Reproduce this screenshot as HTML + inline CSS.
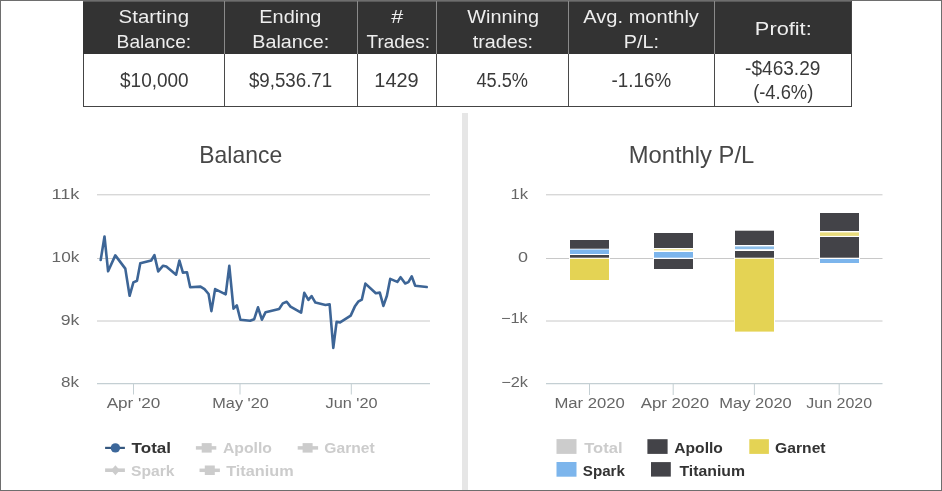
<!DOCTYPE html>
<html><head><meta charset="utf-8"><style>
html,body{margin:0;padding:0;width:942px;height:491px;overflow:hidden;background:#fff;}
svg{display:block;will-change:transform;font-family:"Liberation Sans",sans-serif;}
</style></head><body>
<svg width="942" height="491" viewBox="0 0 942 491">
<rect x="0" y="0" width="942" height="491" fill="#fff"/>

<rect x="83" y="1" width="769" height="53" fill="#333333"/>
<rect x="83" y="1" width="769" height="1" fill="#5a5a5a"/>
<rect x="83" y="54" width="1" height="53" fill="#444"/>
<rect x="851" y="1" width="1" height="106" fill="#444"/>
<rect x="83" y="106" width="769" height="1" fill="#444"/>
<rect x="224" y="1" width="1" height="53" fill="#8a8a8a"/>
<rect x="224" y="54" width="1" height="52" fill="#4a4a4a"/>
<rect x="357" y="1" width="1" height="53" fill="#8a8a8a"/>
<rect x="357" y="54" width="1" height="52" fill="#4a4a4a"/>
<rect x="436" y="1" width="1" height="53" fill="#8a8a8a"/>
<rect x="436" y="54" width="1" height="52" fill="#4a4a4a"/>
<rect x="568" y="1" width="1" height="53" fill="#8a8a8a"/>
<rect x="568" y="54" width="1" height="52" fill="#4a4a4a"/>
<rect x="714" y="1" width="1" height="53" fill="#8a8a8a"/>
<rect x="714" y="54" width="1" height="52" fill="#4a4a4a"/>
<text x="118.63" y="22.8" font-size="18.5" fill="#eeeeee" font-weight="normal" textLength="70.38" lengthAdjust="spacingAndGlyphs">Starting</text>
<text x="116.61" y="47.6" font-size="18.5" fill="#eeeeee" font-weight="normal" textLength="74.57" lengthAdjust="spacingAndGlyphs">Balance:</text>
<text x="259.32" y="22.8" font-size="18.5" fill="#eeeeee" font-weight="normal" textLength="61.96" lengthAdjust="spacingAndGlyphs">Ending</text>
<text x="252.34" y="47.6" font-size="18.5" fill="#eeeeee" font-weight="normal" textLength="76.79" lengthAdjust="spacingAndGlyphs">Balance:</text>
<text x="391.34" y="22.8" font-size="18.5" fill="#eeeeee" font-weight="normal" textLength="12.00" lengthAdjust="spacingAndGlyphs">#</text>
<text x="366.58" y="47.6" font-size="18.5" fill="#eeeeee" font-weight="normal" textLength="63.31" lengthAdjust="spacingAndGlyphs">Trades:</text>
<text x="467.25" y="22.8" font-size="18.5" fill="#eeeeee" font-weight="normal" textLength="71.74" lengthAdjust="spacingAndGlyphs">Winning</text>
<text x="472.68" y="47.6" font-size="18.5" fill="#eeeeee" font-weight="normal" textLength="60.38" lengthAdjust="spacingAndGlyphs">trades:</text>
<text x="583.34" y="22.8" font-size="18.5" fill="#eeeeee" font-weight="normal" textLength="115.57" lengthAdjust="spacingAndGlyphs">Avg. monthly</text>
<text x="623.85" y="47.6" font-size="18.5" fill="#eeeeee" font-weight="normal" textLength="35.21" lengthAdjust="spacingAndGlyphs">P/L:</text>
<text x="754.86" y="34.6" font-size="18.5" fill="#eeeeee" font-weight="normal" textLength="56.87" lengthAdjust="spacingAndGlyphs">Profit:</text>
<text x="120.07" y="86.7" font-size="20" fill="#3a3a3a" font-weight="normal" textLength="68.58" lengthAdjust="spacingAndGlyphs">$10,000</text>
<text x="248.89" y="86.7" font-size="20" fill="#3a3a3a" font-weight="normal" textLength="83.34" lengthAdjust="spacingAndGlyphs">$9,536.71</text>
<text x="374.36" y="86.7" font-size="20" fill="#3a3a3a" font-weight="normal" textLength="44.35" lengthAdjust="spacingAndGlyphs">1429</text>
<text x="476.45" y="86.7" font-size="20" fill="#3a3a3a" font-weight="normal" textLength="51.63" lengthAdjust="spacingAndGlyphs">45.5%</text>
<text x="611.60" y="86.7" font-size="20" fill="#3a3a3a" font-weight="normal" textLength="59.48" lengthAdjust="spacingAndGlyphs">-1.16%</text>
<text x="745.05" y="74.5" font-size="20" fill="#3a3a3a" font-weight="normal" textLength="75.38" lengthAdjust="spacingAndGlyphs">-$463.29</text>
<text x="753.17" y="99.0" font-size="20" fill="#3a3a3a" font-weight="normal" textLength="60.11" lengthAdjust="spacingAndGlyphs">(-4.6%)</text>
<rect x="462" y="113" width="6" height="377" fill="#e6e6e6"/>
<line x1="97" y1="194.8" x2="430" y2="194.8" stroke="#c8c8c8" stroke-width="1"/>
<line x1="97" y1="258.5" x2="430" y2="258.5" stroke="#c8c8c8" stroke-width="1"/>
<line x1="97" y1="321" x2="430" y2="321" stroke="#c8c8c8" stroke-width="1"/>
<line x1="97" y1="383.6" x2="430" y2="383.6" stroke="#c4cfd3" stroke-width="1.2"/>
<line x1="133.5" y1="383.6" x2="133.5" y2="394.5" stroke="#c4cfd3" stroke-width="1"/>
<line x1="240" y1="383.6" x2="240" y2="394.5" stroke="#c4cfd3" stroke-width="1"/>
<line x1="351.3" y1="383.6" x2="351.3" y2="394.5" stroke="#c4cfd3" stroke-width="1"/>
<text x="199.31" y="162.8" font-size="24" fill="#474747" font-weight="normal" textLength="82.85" lengthAdjust="spacingAndGlyphs">Balance</text>
<text x="51.47" y="198.9" font-size="14" fill="#666666" font-weight="normal" textLength="27.90" lengthAdjust="spacingAndGlyphs">11k</text>
<text x="51.57" y="262.4" font-size="14" fill="#666666" font-weight="normal" textLength="27.74" lengthAdjust="spacingAndGlyphs">10k</text>
<text x="60.76" y="324.6" font-size="14" fill="#666666" font-weight="normal" textLength="18.65" lengthAdjust="spacingAndGlyphs">9k</text>
<text x="61.07" y="387.0" font-size="14" fill="#666666" font-weight="normal" textLength="17.96" lengthAdjust="spacingAndGlyphs">8k</text>
<text x="106.65" y="407.8" font-size="15.3" fill="#666666" font-weight="normal" textLength="53.76" lengthAdjust="spacingAndGlyphs">Apr '20</text>
<text x="212.32" y="407.8" font-size="15.3" fill="#666666" font-weight="normal" textLength="56.46" lengthAdjust="spacingAndGlyphs">May '20</text>
<text x="325.54" y="407.8" font-size="15.3" fill="#666666" font-weight="normal" textLength="52.01" lengthAdjust="spacingAndGlyphs">Jun '20</text>
<polyline points="100.7,260 104.5,236.5 108.1,271.3 115.3,255.4 125.3,268.6 129.6,295.8 133.4,282.4 137.0,280.7 140.3,263.3 151.2,260.5 154.4,255.1 158.2,271.4 163.1,265.7 166.3,266.5 176.1,274.7 179.4,260.5 182.9,272.6 187.0,272.3 190.2,287.3 200.5,286.6 204.5,289.1 208.6,294.0 211.4,311.1 215.1,289.1 225.7,294.3 229.3,265.8 233.5,308.6 236.8,305.4 240.4,319.7 250.1,320.8 254.2,319.2 258.0,307.3 261.9,319.7 265.6,312.2 279.1,309.0 282.8,303.4 286.7,301.8 290.5,306.6 301.1,312.7 304.3,292.8 308.4,299.8 311.6,296.1 315.4,302.6 325.5,305 329.6,304.2 333.3,347.9 336.6,321.8 340.1,322.4 350.7,315.6 354.8,306.6 358.2,301.7 361.8,299.7 365.4,283.6 375.8,293.2 379.8,292.6 383.4,305.9 386.9,295.8 390.2,278.9 397.3,281.9 400.6,277.2 405.2,283.5 408.4,282.1 411.7,276.3 415.2,285.8 426.7,287" fill="none" stroke="#3d6596" stroke-width="2.6" stroke-linejoin="round" stroke-linecap="round"/>
<line x1="105.1" y1="447.9" x2="124.9" y2="447.9" stroke="#35587f" stroke-width="2.2"/>
<circle cx="115.4" cy="447.9" r="4.7" fill="#3c679a"/>
<text x="131.63" y="453.0" font-size="15" fill="#333" font-weight="bold" textLength="39.45" lengthAdjust="spacingAndGlyphs">Total</text>
<line x1="195.9" y1="447.9" x2="216.3" y2="447.9" stroke="#cccccc" stroke-width="3.5"/>
<rect x="201.7" y="443.1" width="10" height="9.5" fill="#cccccc"/>
<text x="222.98" y="453.0" font-size="15" fill="#cccccc" font-weight="bold" textLength="48.96" lengthAdjust="spacingAndGlyphs">Apollo</text>
<line x1="297.7" y1="447.9" x2="318.1" y2="447.9" stroke="#cccccc" stroke-width="3.5"/>
<rect x="302.6" y="443.1" width="10" height="9.5" fill="#cccccc"/>
<text x="324.30" y="453.0" font-size="15" fill="#cccccc" font-weight="bold" textLength="50.41" lengthAdjust="spacingAndGlyphs">Garnet</text>
<line x1="105.1" y1="470.2" x2="124.9" y2="470.2" stroke="#cccccc" stroke-width="3.6"/>
<path d="M115.4 465.2 L119.8 470.2 L115.4 475.2 L111 470.2 Z" fill="#cccccc"/>
<text x="131.05" y="475.8" font-size="15" fill="#cccccc" font-weight="bold" textLength="43.45" lengthAdjust="spacingAndGlyphs">Spark</text>
<line x1="199.5" y1="470.3" x2="219.9" y2="470.3" stroke="#cccccc" stroke-width="3.5"/>
<rect x="204.8" y="465.5" width="10" height="9.5" fill="#cccccc"/>
<text x="226.16" y="475.8" font-size="15" fill="#cccccc" font-weight="bold" textLength="67.51" lengthAdjust="spacingAndGlyphs">Titanium</text>
<line x1="546" y1="194.8" x2="882.5" y2="194.8" stroke="#c8c8c8" stroke-width="1"/>
<line x1="546" y1="258.5" x2="882.5" y2="258.5" stroke="#c8c8c8" stroke-width="1"/>
<line x1="546" y1="321" x2="882.5" y2="321" stroke="#c8c8c8" stroke-width="1"/>
<line x1="546" y1="383.6" x2="882.5" y2="383.6" stroke="#c4cfd3" stroke-width="1.2"/>
<line x1="589.5" y1="383.6" x2="589.5" y2="395" stroke="#c4cfd3" stroke-width="1"/>
<line x1="673.2" y1="383.6" x2="673.2" y2="395" stroke="#c4cfd3" stroke-width="1"/>
<line x1="754.4" y1="383.6" x2="754.4" y2="395" stroke="#c4cfd3" stroke-width="1"/>
<line x1="839.2" y1="383.6" x2="839.2" y2="395" stroke="#c4cfd3" stroke-width="1"/>
<text x="628.75" y="163.0" font-size="24" fill="#474747" font-weight="normal" textLength="125.46" lengthAdjust="spacingAndGlyphs">Monthly P/L</text>
<text x="510.47" y="198.6" font-size="14" fill="#666666" font-weight="normal" textLength="17.61" lengthAdjust="spacingAndGlyphs">1k</text>
<text x="518.13" y="261.8" font-size="14" fill="#666666" font-weight="normal" textLength="10.01" lengthAdjust="spacingAndGlyphs">0</text>
<text x="500.94" y="322.9" font-size="14" fill="#666666" font-weight="normal" textLength="26.70" lengthAdjust="spacingAndGlyphs">&#8722;1k</text>
<text x="501.22" y="386.8" font-size="14" fill="#666666" font-weight="normal" textLength="26.77" lengthAdjust="spacingAndGlyphs">&#8722;2k</text>
<text x="554.40" y="407.9" font-size="15.3" fill="#666666" font-weight="normal" textLength="70.50" lengthAdjust="spacingAndGlyphs">Mar 2020</text>
<text x="640.67" y="407.9" font-size="15.3" fill="#666666" font-weight="normal" textLength="68.46" lengthAdjust="spacingAndGlyphs">Apr 2020</text>
<text x="719.30" y="407.9" font-size="15.3" fill="#666666" font-weight="normal" textLength="72.50" lengthAdjust="spacingAndGlyphs">May 2020</text>
<text x="806.31" y="407.9" font-size="15.3" fill="#666666" font-weight="normal" textLength="65.75" lengthAdjust="spacingAndGlyphs">Jun 2020</text>
<rect x="569" y="239" width="41" height="42.0" fill="#fff"/>
<rect x="570" y="240" width="39" height="8.7" fill="#434348"/>
<rect x="570" y="249.5" width="39" height="4.5" fill="#7cb5ec"/>
<rect x="570" y="255" width="39" height="2.7" fill="#434348"/>
<rect x="570" y="258.8" width="39" height="21.2" fill="#e4d354"/>
<rect x="653" y="232" width="41" height="38.0" fill="#fff"/>
<rect x="654" y="233" width="39" height="15.0" fill="#434348"/>
<rect x="654" y="249.2" width="39" height="1.2" fill="#ece08c"/>
<rect x="654" y="252" width="39" height="5.7" fill="#7cb5ec"/>
<rect x="654" y="259" width="39" height="10.0" fill="#434348"/>
<rect x="734" y="229.7" width="41" height="102.9" fill="#fff"/>
<rect x="735" y="230.7" width="39" height="14.3" fill="#434348"/>
<rect x="735" y="246.4" width="39" height="2.8" fill="#8cbde8"/>
<rect x="735" y="251" width="39" height="6.7" fill="#434348"/>
<rect x="735" y="258.7" width="39" height="72.9" fill="#e4d354"/>
<rect x="819" y="212" width="41" height="52.0" fill="#fff"/>
<rect x="820" y="213" width="39" height="18.0" fill="#434348"/>
<rect x="820" y="232.4" width="39" height="3.5" fill="#e9dc7c"/>
<rect x="820" y="237" width="39" height="20.7" fill="#434348"/>
<rect x="820" y="259" width="39" height="4.0" fill="#7cb5ec"/>
<rect x="556.5" y="439.1" width="20" height="14.8" fill="#cccccc"/>
<text x="584.19" y="453.0" font-size="15" fill="#cccccc" font-weight="bold" textLength="38.29" lengthAdjust="spacingAndGlyphs">Total</text>
<rect x="647.4" y="439.2" width="20.2" height="14.7" fill="#434348"/>
<text x="674.35" y="453.0" font-size="15" fill="#333" font-weight="bold" textLength="48.46" lengthAdjust="spacingAndGlyphs">Apollo</text>
<rect x="749.3" y="439.2" width="19.6" height="14.7" fill="#e4d354"/>
<text x="775.11" y="453.0" font-size="15" fill="#333" font-weight="bold" textLength="50.45" lengthAdjust="spacingAndGlyphs">Garnet</text>
<rect x="556.5" y="462" width="20" height="14.7" fill="#7cb5ec"/>
<text x="582.81" y="475.8" font-size="15" fill="#333" font-weight="bold" textLength="42.10" lengthAdjust="spacingAndGlyphs">Spark</text>
<rect x="651" y="462.1" width="19.8" height="14.5" fill="#434348"/>
<text x="679.46" y="475.8" font-size="15" fill="#333" font-weight="bold" textLength="65.60" lengthAdjust="spacingAndGlyphs">Titanium</text>
<rect x="0.5" y="0.5" width="941" height="490" fill="none" stroke="#6e6e6e" stroke-width="1"/>
</svg></body></html>
